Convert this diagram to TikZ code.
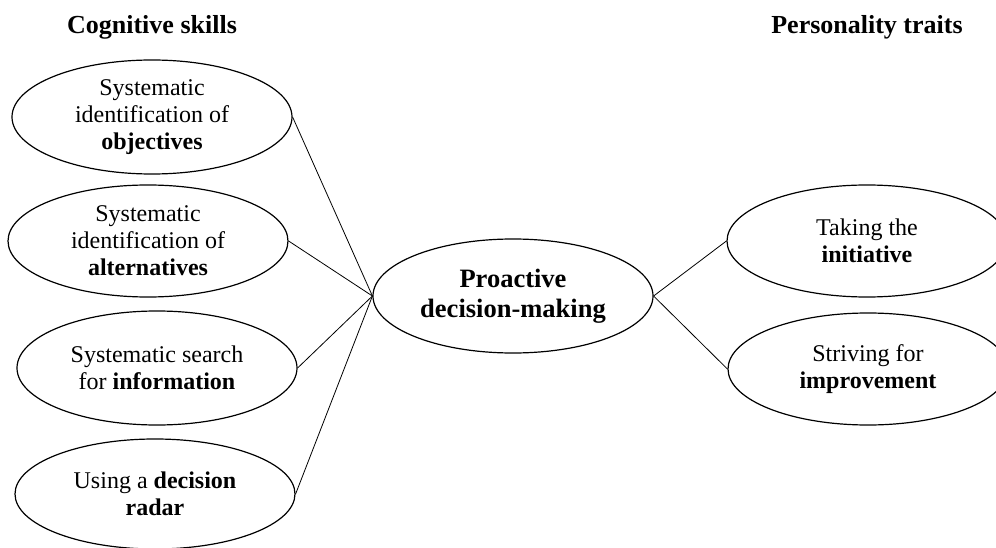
\documentclass[tikz,border=0pt]{standalone}
\usepackage{fontspec}
\setmainfont{Liberation Serif}
\usetikzlibrary{shapes.geometric}
\begin{document}
\begin{tikzpicture}[x=1pt,y=-1pt,
  oval/.style={ellipse,draw,line width=1.2pt,minimum width=280pt,minimum height=114pt,
    inner sep=0pt,align=center,font=\fontsize{24}{27}\selectfont},
  hub/.style={oval,font=\fontsize{26.5}{30}\selectfont\bfseries},
  heading/.style={font=\fontsize{26}{30}\selectfont\bfseries},
  link/.style={line width=0.8pt}]
\clip (0,0) rectangle (996,548);

% column headings
\node[heading] (hcog) at (152,27) {Cognitive skills};
\node[heading] (hpers) at (867,27) {Personality traits};

% cognitive skills
\node[oval] (obj) at (152,117) {Systematic\\identification of\\\textbf{objectives}};
\node[oval,minimum height=112pt] (alt) at (148,241) {Systematic\\identification of\\\textbf{alternatives}};
\node[oval] (info) at (157,368) {Systematic search\\for \textbf{information}};
\node[oval,minimum height=110pt] (radar) at (155,494) {Using a \textbf{decision}\\\textbf{radar}};

% central concept
\node[hub] (pdm) at (513,296) {Proactive\\decision-making};

% personality traits
\node[oval,minimum height=112pt] (init) at (867,241) {Taking the\\\textbf{initiative}};
\node[oval,minimum height=112pt] (impr) at (868,369) {Striving for\\\textbf{improvement}};

% connectors
\foreach \n in {obj,alt,info,radar}
  \draw[link] (\n.east) -- (pdm.west);
\foreach \n in {init,impr}
  \draw[link] (pdm.east) -- (\n.west);
\end{tikzpicture}
\end{document}
